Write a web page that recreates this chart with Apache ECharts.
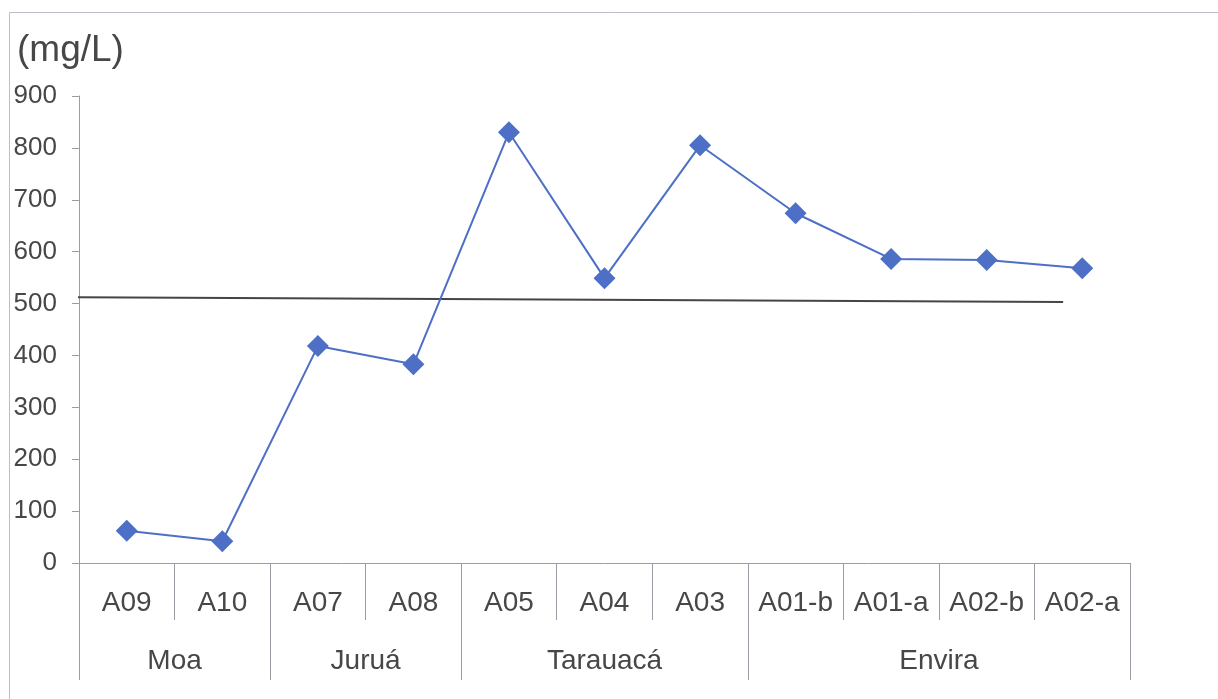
<!DOCTYPE html>
<html>
<head>
<meta charset="utf-8">
<script src="https://cdn.jsdelivr.net/npm/echarts@6/dist/echarts.min.js"></script>
<style>
  html, body { margin: 0; padding: 0; background: #fff; }
  #chart { width: 1218px; height: 699px; }
</style>
</head>
<body>
<div id="chart"></div>
<script>
// sampling points and their river groups
var sites = ['A09', 'A10', 'A07', 'A08', 'A05', 'A04', 'A03', 'A01-b', 'A01-a', 'A02-b', 'A02-a'];
var values = [62, 42, 418, 383, 830, 549, 805, 674, 586, 584, 568];
var groups = ['Moa', 'Juruá', 'Tarauacá', 'Envira'];
var groupSizes = [2, 2, 3, 4];
var yTicks = [0, 100, 200, 300, 400, 500, 600, 700, 800, 900];
// reference line (mg/L), slightly tilted in the scan
var refLine = [[-0.06, 512], [10.3, 503]];

// group boundaries and centres along the 0..11 axis
var bounds = [0], centres = [];
groupSizes.forEach(function (n, i) {
  var start = bounds[i];
  bounds.push(start + n);
  centres.push(start + n / 2);
});

var textColor = '#474747';
var axisGrey = '#9a9ca6';
var font = 'Liberation Sans, Arial, sans-serif';

var chart = echarts.init(document.getElementById('chart'));
var option = {
  animation: false,
  backgroundColor: '#fff',
  graphic: [{
    type: 'rect',
    shape: { x: 9.5, y: 12.5, width: 1400, height: 900 },
    style: { fill: 'none', stroke: '#b9bdcc', lineWidth: 1 },
    silent: true
  }],
  title: {
    text: '(mg/L)',
    left: 12,
    top: 27,
    textStyle: { fontFamily: font, fontSize: 37, fontWeight: 'normal', color: textColor }
  },
  grid: { left: 79, right: 88, top: 96, bottom: 136 },
  xAxis: [{
    type: 'category',
    data: sites,
    boundaryGap: true,
    axisLine: { lineStyle: { color: axisGrey, width: 1 } },
    axisTick: { show: true, interval: 0, length: 57, lineStyle: { color: axisGrey } },
    axisLabel: { interval: 0, margin: 26, fontFamily: font, fontSize: 28, color: textColor }
  }, {
    type: 'value',
    min: 0,
    max: sites.length,
    position: 'bottom',
    axisLine: { show: false },
    splitLine: { show: false },
    axisTick: { show: true, customValues: bounds, length: 117, lineStyle: { color: axisGrey } },
    axisLabel: {
      customValues: centres,
      margin: 84,
      fontFamily: font, fontSize: 28, color: textColor,
      formatter: function (v) { return groups[centres.indexOf(v)]; }
    }
  }],
  yAxis: {
    type: 'value',
    min: 0,
    max: 900,
    interval: 100,
    axisLine: { show: true, lineStyle: { color: axisGrey } },
    axisTick: { show: true, length: 7, lineStyle: { color: axisGrey } },
    splitLine: { show: false },
    axisLabel: {
      margin: 22, fontFamily: font, fontSize: 26, color: textColor,
      customValues: yTicks
    }
  },
  series: [{
    type: 'line',
    data: values,
    xAxisIndex: 0,
    symbol: 'diamond',
    symbolSize: 22,
    lineStyle: { color: '#4d6fc6', width: 2 },
    itemStyle: { color: '#4d6fc6' },
    z: 3
  }, {
    type: 'line',
    data: refLine,
    xAxisIndex: 1,
    clip: false,
    symbol: 'none',
    lineStyle: { color: '#454545', width: 2 },
    z: 2
  }]
};
chart.setOption(option);
</script>
</body>
</html>
